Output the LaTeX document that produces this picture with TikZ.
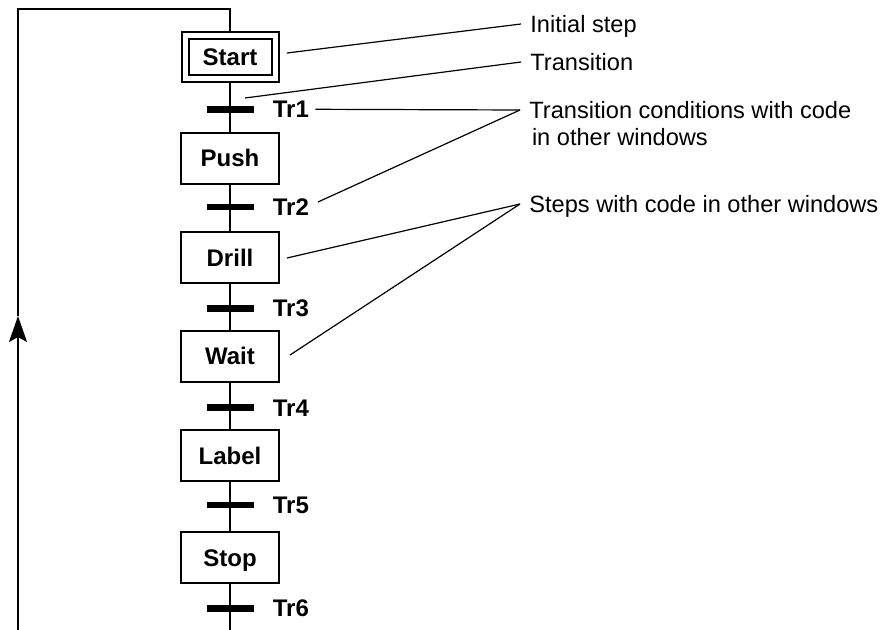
\documentclass[tikz,border=0pt]{standalone}
\usepackage{fontspec}
\setmainfont{Liberation Sans}
\usetikzlibrary{arrows.meta, positioning}

\begin{document}
\begin{tikzpicture}[x=0.5pt, y=-0.5pt,
  every node/.style={font=\fontsize{11.8pt}{14pt}\selectfont},
  txt/.style={text height=10.6pt, text depth=2.1pt},
  stepbox/.style={draw, txt, line width=1pt, minimum width=49pt, minimum height=25.5pt,
    inner sep=0pt, font=\fontsize{12pt}{14pt}\selectfont\bfseries},
  initbox/.style={stepbox, double, double distance=2.5pt, minimum width=45pt,
    minimum height=21.75pt, outer sep=2.25pt},
  trbar/.style={fill=black, minimum width=23.5pt, minimum height=3.3pt, inner sep=0pt, outer sep=0pt},
  trtext/.style={txt, inner sep=3pt, font=\fontsize{12pt}{14pt}\selectfont\bfseries},
  note/.style={txt, anchor=west, inner xsep=4.5pt, inner ysep=0pt},
  leader/.style={line width=0.6pt},
  flow/.style={line width=1pt}]

  \useasboundingbox (0, 0) rectangle (887, 630);

  % Steps (initial step has a double frame)
  \node[initbox] (start) at (230, 57) {Start};
  \node[stepbox] (push) at (230, 158.5) {Push};
  \node[stepbox] (drill) at (230, 257.7) {Drill};
  \node[stepbox] (wait) at (230, 356.3) {Wait};
  \node[stepbox] (label) at (230, 455.7) {Label};
  \node[stepbox] (stop) at (230, 557.7) {Stop};

  % Transition bars and their names
  \node[trbar] (bar1) at (230, 109.3) {};
  \node[trbar] (bar2) at (230, 207) {};
  \node[trbar] (bar3) at (230, 308.3) {};
  \node[trbar] (bar4) at (230, 407.5) {};
  \node[trbar] (bar5) at (230, 505) {};
  \node[trbar] (bar6) at (230, 608.3) {};
  \node[trtext, right=6.5pt of bar1] (tr1) {Tr1};
  \node[trtext, right=6.5pt of bar2] (tr2) {Tr2};
  \node[trtext, right=6.5pt of bar3] (tr3) {Tr3};
  \node[trtext, right=6.5pt of bar4] (tr4) {Tr4};
  \node[trtext, right=6.5pt of bar5] (tr5) {Tr5};
  \node[trtext, right=6.5pt of bar6] (tr6) {Tr6};

  % Flow through the chart
  \coordinate (flowend) at (230, 630);
  \draw[flow] (start) -- (push);
  \draw[flow] (push) -- (drill);
  \draw[flow] (drill) -- (wait);
  \draw[flow] (wait) -- (label);
  \draw[flow] (label) -- (stop);
  \draw[flow] (stop) -- (flowend);

  % Return loop back to the initial step
  \coordinate (loopstart) at (18, 630);
  \coordinate (looptip) at (18, 316);
  \coordinate (loopcorner) at (18, 9);
  \coordinate (looptop) at (230, 9);
  \draw[flow, -{Stealth[length=13pt, width=9pt, inset=2.5pt]}] (loopstart) -- (looptip);
  \draw[flow] (looptip) -- (loopcorner) -- (looptop) -- (start);

  % Explanations
  \node[note] (initnote) at (521, 24) {Initial step};
  \node[note] (transnote) at (521, 62) {Transition};
  \node[note] (condnote) at (520, 110) {Transition conditions with code};
  \node[note] (condnote2) at (520, 137) {\hspace*{1.3pt}in other windows};
  \node[note] (stepsnote) at (520, 204) {Steps with code in other windows};

  \coordinate (startside) at (287, 53);
  \coordinate (barside) at (245, 98);
  \coordinate (tr2side) at (318, 202);
  \coordinate (drillside) at (287, 258);
  \coordinate (waitside) at (290, 355);
  \draw[leader] (startside) -- (initnote.west);
  \draw[leader] (barside) -- (transnote.west);
  \draw[leader] (tr1.east) -- (condnote.west);
  \draw[leader] (tr2side) -- (condnote.west);
  \draw[leader] (drillside) -- (stepsnote.west);
  \draw[leader] (waitside) -- (stepsnote.west);

\end{tikzpicture}
\end{document}
